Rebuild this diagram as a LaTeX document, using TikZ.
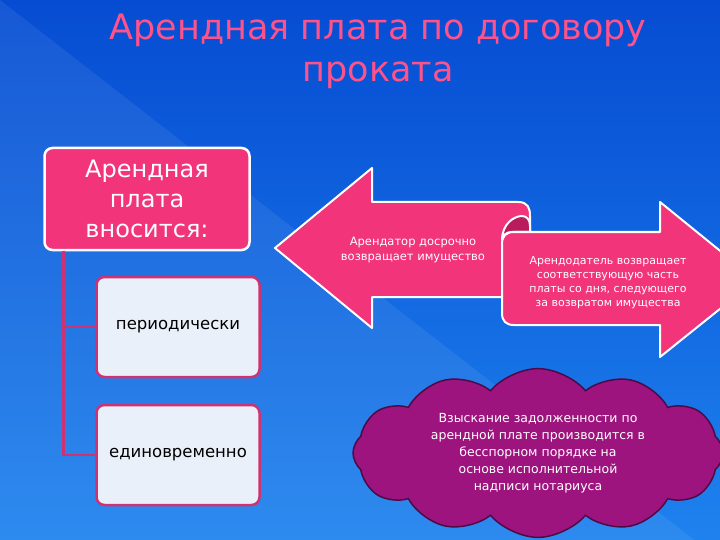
\documentclass[tikz,border=0pt]{standalone}
\usepackage{fontspec}
\setmainfont{DejaVu Sans}
\usetikzlibrary{shapes.symbols}
\definecolor{bgtop}{RGB}{6,76,210}
\definecolor{bgbot}{RGB}{30,130,238}
\definecolor{rosa}{RGB}{242,52,122}
\definecolor{rosadark}{RGB}{185,28,92}
\definecolor{rosaline}{RGB}{205,50,115}
\definecolor{pale}{RGB}{234,240,250}
\definecolor{lilac}{RGB}{158,20,126}
\definecolor{lilacdark}{RGB}{78,10,70}
\definecolor{titlepink}{RGB}{255,82,138}

\begin{document}
\begin{tikzpicture}[x=1pt,y=-1pt,
    headbox/.style={draw=white,line width=2.5pt,fill=rosa,rounded corners=8pt,
      text=white,align=center,minimum width=205pt,minimum height=102pt},
    itembox/.style={draw=rosaline,line width=2.5pt,fill=pale,rounded corners=8pt,
      minimum width=163pt,minimum height=100pt,font=\fontsize{16.5}{20}\selectfont},
    arrowshape/.style={draw=white,line width=2pt,fill=rosa,line join=round},
    conn/.style={rosaline,line width=2.5pt}]
  \useasboundingbox (0,0) rectangle (720,540);
  \clip (0,0) rectangle (720,540);
  % background
  \shade[top color=bgtop,bottom color=bgbot] (0,0) rectangle (720,540);
  \fill[white,opacity=0.07] (0,0) -- (720,560) -- (0,560) -- cycle;

  % title
  \node (title) [titlepink,font=\fontsize{35}{42}\selectfont,align=center] at (378,51)
    {Арендная плата по договору\\проката};

  % left column
  \node (pay) [headbox,font=\fontsize{24}{30}\selectfont] at (147,199)
    {Арендная\\плата\\вносится:};
  \node (periodic) [itembox] at (178,327) {периодически};
  \node (lumpsum) [itembox] at (178,455) {единовременно};
  \draw[conn] (pay.south west) ++(20,0) |- (periodic.west);
  \draw[conn] (pay.south west) ++(20,0) |- (lumpsum.west);

  % arrows
  \draw[arrowshape] (275,248) -- (372,168) -- (372,202) -- (518,202)
    .. controls (528,202) and (530,208) .. (530,216) -- (530,240) -- (510,297)
    -- (372,297) -- (372,328) -- cycle;
  \draw[white,line width=2pt,fill=rosadark] (502,240)
    .. controls (502,224) and (514,216) .. (522,216)
    .. controls (527,216) and (530,220) .. (530,226) -- (530,232) -- (512,232)
    .. controls (506,232) and (502,236) .. cycle;
  \draw[arrowshape] (502,244) .. controls (502,236) and (506,232) .. (514,232)
    -- (660,232) -- (660,202) -- (756,280) -- (660,357) -- (660,325)
    -- (514,325) .. controls (506,325) and (502,321) .. (502,313) -- cycle;
  \node (early) [text=white,align=center,font=\fontsize{11.5}{15}\selectfont] at (413,250)
    {Арендатор досрочно\\возвращает имущество};
  \node (refund) [text=white,align=center,font=\fontsize{11}{14}\selectfont] at (608,283)
    {Арендодатель возвращает\\соответствующую часть\\платы со дня, следующего\\за возвратом имущества};

  % cloud
  \node (debt) [cloud,cloud puffs=12,cloud puff arc=100,aspect=2.3,fill=lilac,draw=lilacdark,
    line width=1.5pt,minimum width=370pt,minimum height=162pt,text=white,align=center,
    font=\fontsize{12.5}{17}\selectfont] at (538,453)
    {Взыскание задолженности по\\арендной плате производится в\\бесспорном порядке на\\основе исполнительной\\надписи нотариуса};
\end{tikzpicture}
\end{document}
